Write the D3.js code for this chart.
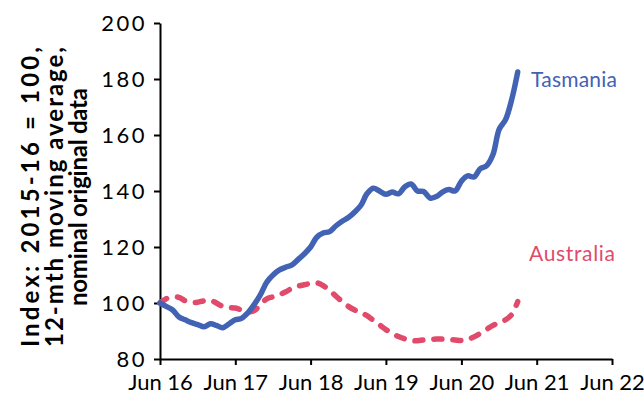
<!DOCTYPE html>
<html>
<head>
<meta charset="utf-8">
<script src="https://cdn.jsdelivr.net/npm/d3@7"></script>
<style>
  html, body { margin: 0; padding: 0; background: #fff; }
  svg { display: block; }
  text { font-family: "Lato", "Open Sans", sans-serif; }
</style>
</head>
<body>
<svg id="chart" width="644" height="401"></svg>
<script>
// Monthly index values, Jun 2016 onwards (2015-16 = 100, 12-month moving average)
const firstMonth = new Date(2016, 5, 1);
const tasmania = [
  100, 98.8, 97.5, 95, 94, 93, 92.3, 91.5, 92.6, 92, 91.2, 92.5,
  94, 94.5, 96.5, 99.5, 103, 107.5, 110, 111.8, 112.8, 113.5, 115.5, 117.5,
  120, 123.5, 125, 125.5, 127.5, 129.2, 130.5, 132.5, 135, 139, 141, 140,
  138.8, 139.6, 139, 141.5, 142.5, 140, 139.8, 137.5, 138, 139.6, 140.5, 140,
  143.5, 145.4, 145, 148, 149, 153, 162, 165.5, 173, 182.5
];
const australia = [
  100, 101.5, 102.2, 102, 100.8, 100.2, 100.3, 100.8, 101, 100, 98.8, 98.4,
  98.2, 97.5, 96.9, 97.3, 99.5, 101.5, 102.2, 103, 104, 105.2, 106, 106.5,
  107, 107.2, 106.2, 104.5, 102.5, 100.5, 98.8, 97.5, 96.5, 95.5, 93.8, 92.2,
  90.5, 89.2, 88, 87.2, 86.6, 86.5, 86.8, 87, 87.1, 87.1, 87, 86.8,
  86.6, 87, 87.9, 89.2, 90.6, 92, 93, 94, 96, 100.5
];
const yTicks = [80, 100, 120, 140, 160, 180, 200];
const xTickYears = [2016, 2017, 2018, 2019, 2020, 2021, 2022];
const seriesNames = ["Tasmania", "Australia"];
const yTitle = ["Index: 2015-16 = 100,", "12-mth moving average,", "nominal original data"];
const yTitleWidths = [300, 300, 218];

const colors = { Tasmania: "#4262b4", Australia: "#e14a6b" };

const svg = d3.select("#chart");

const x = d3.scaleTime()
  .domain([new Date(2016, 5, 1), new Date(2022, 5, 1)])
  .range([160, 612]);
const y = d3.scaleLinear().domain([80, 200]).range([359, 23]);

const monthDate = i => d3.timeMonth.offset(firstMonth, i);

// Axes
const yAxis = d3.axisLeft(y).tickValues(yTicks).tickSize(6).tickSizeOuter(0).tickPadding(7);
const xAxis = d3.axisBottom(x)
  .tickValues(xTickYears.map(yr => new Date(yr, 5, 1)))
  .tickFormat(d => "Jun " + String(d.getFullYear()).slice(2))
  .tickSize(6).tickSizeOuter(0).tickPadding(9);

const gy = svg.append("g").attr("transform", "translate(160,0)").call(yAxis);
const gx = svg.append("g").attr("transform", "translate(0,359)").call(xAxis);

[gx, gy].forEach(g => {
  g.select(".domain").attr("stroke", "#000").attr("stroke-width", 2);
  g.selectAll(".tick line").attr("stroke", "#000").attr("stroke-width", 2);
  g.selectAll(".tick text").attr("fill", "#000").style("font-size", "22px")
    .style("font-family", "Lato, sans-serif");
});
gy.selectAll(".tick text").style("letter-spacing", "2.5px");

// Lines
const line = d3.line()
  .x((d, i) => x(monthDate(i)))
  .y(d => y(d))
  .curve(d3.curveCatmullRom.alpha(0.5));

svg.append("path")
  .datum(australia)
  .attr("fill", "none")
  .attr("stroke", colors.Australia)
  .attr("stroke-width", 5.5)
  .attr("stroke-linecap", "round")
  .attr("stroke-dasharray", "8 11")
  .attr("d", line);

svg.append("path")
  .datum(tasmania)
  .attr("fill", "none")
  .attr("stroke", colors.Tasmania)
  .attr("stroke-width", 5.5)
  .attr("stroke-linecap", "round")
  .attr("stroke-linejoin", "round")
  .attr("d", line);

// Series labels
svg.append("text").attr("x", 531).attr("y", 87)
  .attr("fill", colors.Tasmania).style("font-size", "21px")
  .attr("textLength", 86).attr("lengthAdjust", "spacing").text(seriesNames[0]);
svg.append("text").attr("x", 529).attr("y", 261)
  .attr("fill", colors.Australia).style("font-size", "21px")
  .attr("textLength", 86).attr("lengthAdjust", "spacing").text(seriesNames[1]);

// Y axis title
const title = svg.append("text")
  .attr("transform", "translate(56,197) rotate(-90)")
  .attr("text-anchor", "middle")
  .style("font-size", "24px")
  .style("font-weight", "bold")
  .attr("fill", "#000");
yTitle.forEach((t, i) => {
  title.append("tspan").attr("x", 0).attr("y", (i - 1) * 24 + 7)
    .attr("textLength", yTitleWidths[i]).attr("lengthAdjust", "spacing")
    .text(t);
});
</script>
</body>
</html>
